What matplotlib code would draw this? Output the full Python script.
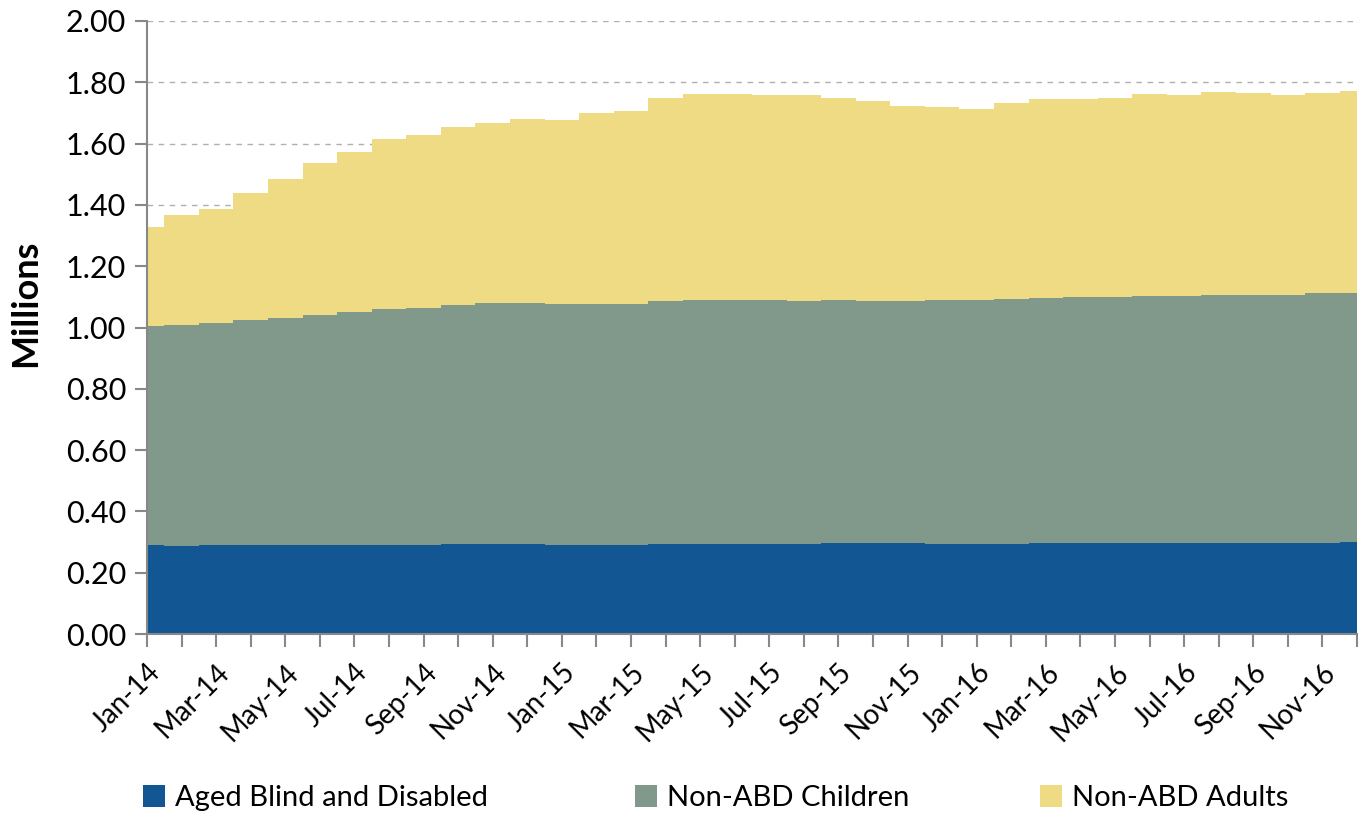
import numpy as np
import matplotlib.pyplot as plt
from matplotlib.patches import Patch

plt.rcParams['font.family'] = ['Lato', 'DejaVu Sans']

# Monthly enrollment (millions), Jan-14 .. Dec-16
months = ['Jan-14', 'Feb-14', 'Mar-14', 'Apr-14', 'May-14', 'Jun-14',
          'Jul-14', 'Aug-14', 'Sep-14', 'Oct-14', 'Nov-14', 'Dec-14',
          'Jan-15', 'Feb-15', 'Mar-15', 'Apr-15', 'May-15', 'Jun-15',
          'Jul-15', 'Aug-15', 'Sep-15', 'Oct-15', 'Nov-15', 'Dec-15',
          'Jan-16', 'Feb-16', 'Mar-16', 'Apr-16', 'May-16', 'Jun-16',
          'Jul-16', 'Aug-16', 'Sep-16', 'Oct-16', 'Nov-16', 'Dec-16']

aged_blind_disabled = [0.291, 0.288, 0.290, 0.291, 0.291, 0.291, 0.291, 0.291, 0.291, 0.293, 0.293, 0.293,
                       0.292, 0.292, 0.292, 0.293, 0.293, 0.294, 0.294, 0.295, 0.296, 0.296, 0.296, 0.295,
                       0.294, 0.295, 0.296, 0.296, 0.296, 0.296, 0.296, 0.297, 0.297, 0.297, 0.297, 0.299]

non_abd_children = [0.715, 0.720, 0.725, 0.733, 0.741, 0.750, 0.761, 0.768, 0.773, 0.782, 0.786, 0.788,
                    0.786, 0.786, 0.786, 0.792, 0.797, 0.796, 0.795, 0.793, 0.794, 0.792, 0.792, 0.795,
                    0.795, 0.797, 0.801, 0.802, 0.804, 0.808, 0.808, 0.809, 0.809, 0.810, 0.814, 0.813]

non_abd_adults = [0.323, 0.359, 0.372, 0.416, 0.454, 0.497, 0.520, 0.555, 0.563, 0.579, 0.587, 0.599,
                  0.598, 0.623, 0.627, 0.663, 0.672, 0.673, 0.670, 0.670, 0.660, 0.651, 0.636, 0.629,
                  0.625, 0.642, 0.650, 0.649, 0.650, 0.657, 0.656, 0.663, 0.659, 0.653, 0.655, 0.661]

labels = ['Aged Blind and Disabled', 'Non-ABD Children', 'Non-ABD Adults']
colors = ['#125794', '#80998A', '#EEDB84']

x = np.arange(len(months))
series = [np.array(aged_blind_disabled), np.array(non_abd_children), np.array(non_abd_adults)]

fig = plt.figure(figsize=(13.59, 8.16), dpi=100)
ax = fig.add_axes([0.1082, 0.2230, 0.8903, 0.7513])

bottom = np.zeros(len(months))
for vals, col in zip(series, colors):
    top = bottom + vals
    ax.fill_between(x, bottom, top, step='mid', color=col, linewidth=0, zorder=2)
    bottom = top

ax.set_xlim(0, len(months) - 1)
ax.set_ylim(0, 2.0)
yt = np.arange(0, 2.01, 0.2)
ax.set_yticks(yt)
ax.set_yticklabels(['%.2f' % v for v in yt], fontsize=22)
ax.set_xticks(x)
ax.set_xticklabels([m if i % 2 == 0 else '' for i, m in enumerate(months)],
                   rotation=45, ha='right', rotation_mode='anchor', fontsize=20)
ax.tick_params(axis='both', direction='out', length=9, width=1.5, color='#888888', pad=6)
ax.tick_params(axis='x', pad=9)

ax.yaxis.grid(True, linestyle=(0, (4, 4)), color='#B0B0B0', linewidth=1, zorder=0)
ax.set_axisbelow(True)
for s in ['top', 'right']:
    ax.spines[s].set_visible(False)
for s in ['left', 'bottom']:
    ax.spines[s].set_color('#888888')
    ax.spines[s].set_linewidth(1.5)

ax.set_ylabel('Millions', fontsize=26, fontweight='bold')
ax.yaxis.set_label_coords(-0.087, 0.54)

# legend entries spread along the bottom
legend_x = [0.086, 0.448, 0.746]
for lab, col, lx in zip(labels, colors, legend_x):
    fig.legend(handles=[Patch(facecolor=col, label=lab)], loc='center left',
               bbox_to_anchor=(lx, 0.022), frameon=False, fontsize=21,
               handlelength=0.75, handleheight=0.75, handletextpad=0.35)

fig.savefig('out.png', dpi=100)
